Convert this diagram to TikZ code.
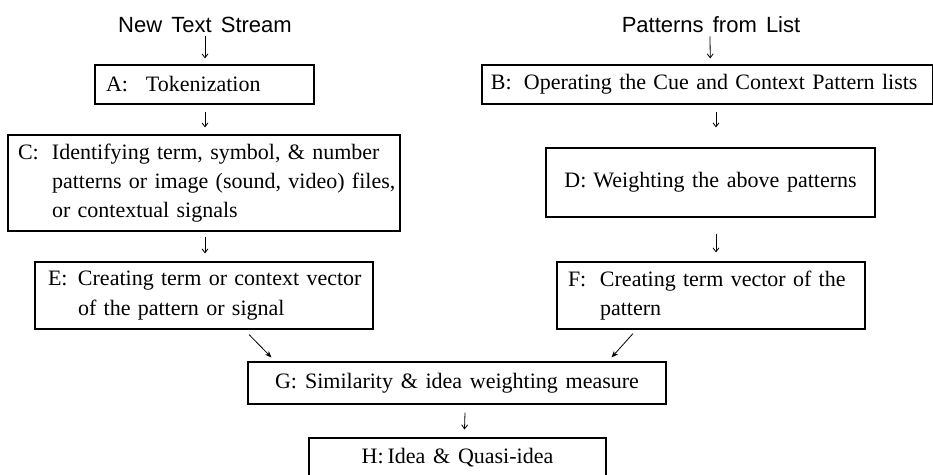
\documentclass[tikz,border=0pt]{standalone}
\usepackage{fontspec}
\setmainfont[WordSpace=1.4]{Liberation Serif}
\setsansfont[WordSpace=1.5]{Liberation Sans}
\usetikzlibrary{arrows.meta,calc}
\newcommand\lbl[2]{\makebox[#1pt][l]{#2}}
\begin{document}
\begin{tikzpicture}[x=0.75pt,y=-0.75pt,
  box/.style={draw, line width=0.8pt, inner ysep=0pt, font=\fontsize{16.5}{22}\selectfont, align=left},
  cbox/.style={draw, line width=0.8pt, inner ysep=0pt, inner xsep=0pt, font=\fontsize{16.5}{22}\selectfont, align=center},
  ttl/.style={font=\sffamily\fontsize{16.5}{20}\selectfont, inner sep=0pt},
  varr/.style={line width=0.6pt, -{Straight Barb[length=3pt,width=4.5pt]}},
  darr/.style={line width=0.6pt, -{Stealth[length=5pt,width=4pt]}}]
\useasboundingbox (0,0) rectangle (933,475);
\clip (0,0) rectangle (933,475);

\node[ttl, anchor=base] (nts) at (205,32) {New Text Stream};
\node[ttl, anchor=base] (pfl) at (711,32) {Patterns from List};

\node[box, minimum width=164.25pt, minimum height=29.25pt, inner xsep=8.25pt, text width=147.75pt] (A) at (204.5,84.5)
  {\lbl{30}{A:}\mbox{Tokenization}};
\node[box, minimum width=337.9pt, minimum height=29.25pt, inner xsep=6.75pt, text width=324.4pt] (B) at (707.25,84.5)
  {\lbl{24.75}{B:}\mbox{Operating the Cue and Context Pattern lists}};
\node[box, minimum width=294pt, minimum height=72pt, inner xsep=7.5pt, text width=279pt] (C) at (204,183)
  {\lbl{25.5}{C:}\mbox{Identifying term, symbol, \& number}\\
   \hspace*{25.5pt}\mbox{patterns or image (sound, video) files,}\\
   \hspace*{25.5pt}\mbox{or contextual signals}};
\node[cbox, minimum width=246.75pt, minimum height=51.75pt] (D) at (710.5,182.5)
  {\lbl{21.75}{D:}Weighting the above patterns};
\node[box, minimum width=253.5pt, minimum height=50.25pt, inner xsep=9.75pt, text width=234pt] (E) at (204,295.5)
  {\lbl{22.5}{E:}\mbox{Creating term or context vector}\\
   \hspace*{22.5pt}\mbox{of the pattern or signal}};
\node[box, minimum width=231pt, minimum height=50.25pt, inner xsep=8.25pt, text width=214.5pt] (F) at (711,295.5)
  {\lbl{24}{F:}\mbox{Creating term vector of the}\\
   \hspace*{24pt}\mbox{pattern}};
\node[cbox, minimum width=313.5pt, minimum height=31.5pt] (G) at (457,383)
  {\lbl{22.5}{G:}Similarity \& idea weighting measure};
\node[cbox, minimum width=222.75pt, minimum height=30pt] (H) at (457.5,458)
  {\lbl{19.5}{H:}Idea \& Quasi-idea};

\draw[varr] ($(nts.south)+(0,4)$) -- ($(A.north)+(0.5,-6)$);
\draw[varr] ($(A.south)+(0.5,7)$) -- ($(C.north)+(1,-7)$);
\draw[varr] ($(C.south)+(1,5)$) -- ($(E.north)+(1,-8)$);
\draw[varr] ($(pfl.south)+(-1,4)$) -- ($(B.north)+(3,-6)$);
\draw[varr] ($(B.south)+(8.75,7)$) -- ($(D.north)+(5.5,-20)$);
\draw[varr] ($(D.south)+(5.5,16)$) -- ($(F.north)+(5,-9)$);
\draw[darr] ($(E.south)+(45,5)$) -- ($(G.north west)+(24,-4)$);
\draw[darr] ($(F.south)+(-78,4)$) -- ($(G.north east)+(-55,-4)$);
\draw[varr] ($(G.south)+(8,8)$) -- ($(H.north)+(7,-8)$);
\end{tikzpicture}
\end{document}
